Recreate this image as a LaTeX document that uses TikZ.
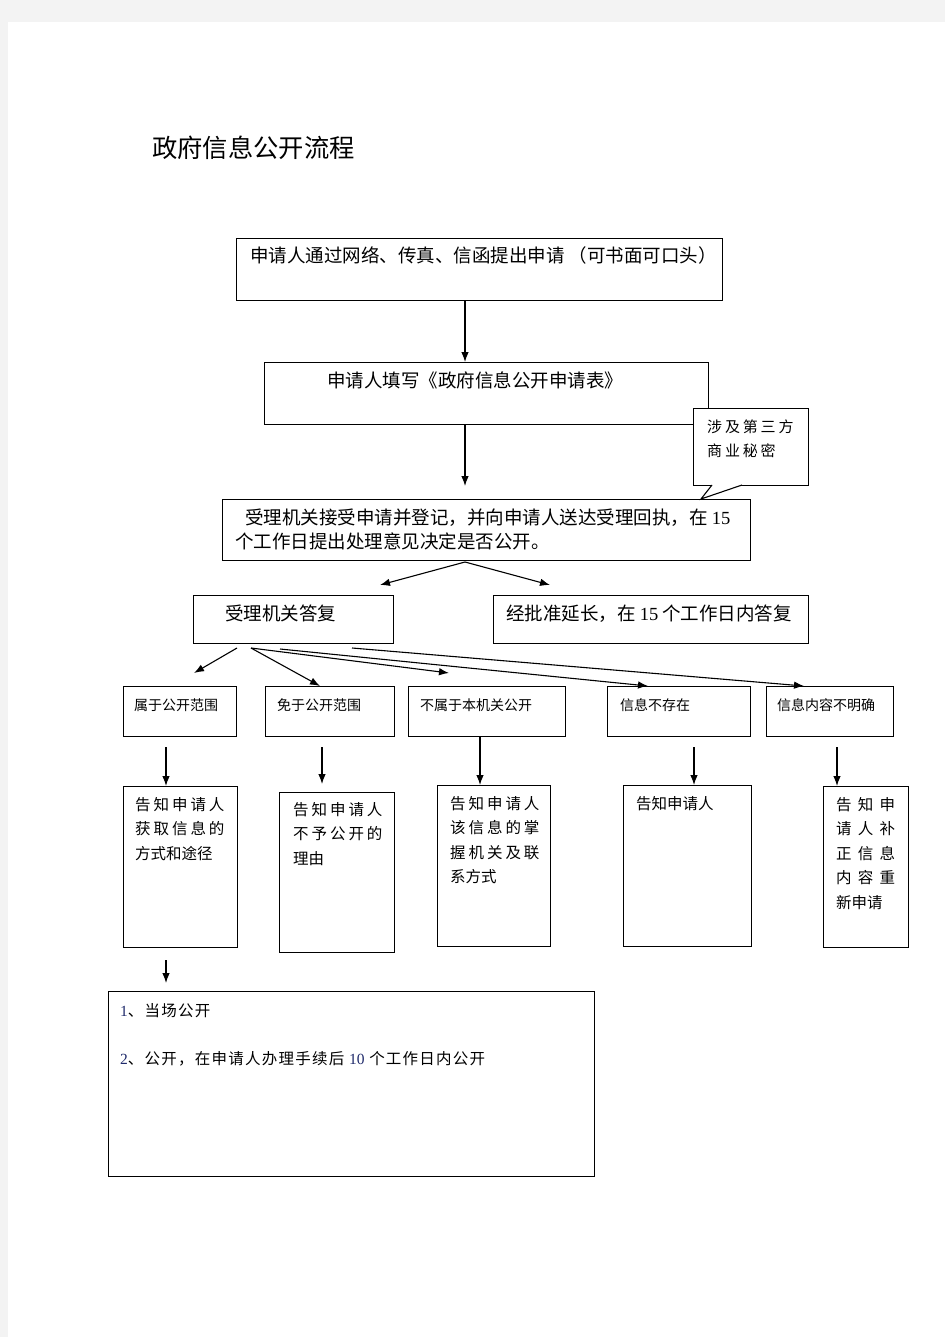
\documentclass[tikz,border=0pt]{standalone}
\usepackage{fontspec}
\setmainfont{Noto Sans CJK SC}
\newfontfamily\cjkwide[LetterSpace=19]{Noto Sans CJK SC}
\newfontfamily\cjkloose[LetterSpace=8]{Noto Sans CJK SC}
\newfontfamily\tnr{Liberation Serif}
\usetikzlibrary{
	arrows.meta,   %箭头
	positioning,   %定位
	calc           %计算
}
\definecolor{pagegray}{HTML}{F3F3F3}
\definecolor{numblue}{HTML}{1F2A6B}
\tikzset{
	every picture/.style={
		>={Latex[length=10pt,width=7.5pt]}
	},
	box/.style={draw,line width=1.1pt,rectangle,inner sep=0pt,anchor=north west},
	bigtxt/.style={inner sep=0pt,anchor=base west,align=left,font=\fontsize{18.5}{24}\selectfont},
	rowtxt/.style={inner sep=0pt,anchor=base west,font=\fontsize{14}{18}\selectfont},
	lowtxt/.style={inner sep=0pt,anchor=base west,align=left,font=\fontsize{15.5}{24.5}\selectfont},
	arr/.style={->,line width=1.1pt}
}

\begin{document}
\begin{tikzpicture}[x=1pt,y=-1pt]
	% 页面背景
	\fill[pagegray] (0,0) rectangle (945,1337);
	\fill[white] (8,22) rectangle (945,1337);
	\useasboundingbox (0,0) rectangle (945,1337);
	
	\node (title) at (152,158) [anchor=base west,inner sep=0pt,font=\fontsize{25.3}{30}\selectfont] {政府信息公开流程};
	
	% 上部流程
	\node (apply) at (236,238) [box,minimum width=486pt,minimum height=62pt] {};
	\node (applytxt) at (250,263) [bigtxt] {申请人通过网络、传真、信函提出申请 （可书面可口头）};
	\node (form) at (264,362) [box,minimum width=444pt,minimum height=62pt] {};
	\node (formtxt) at (327,387) [bigtxt] {申请人填写《政府信息公开申请表》};
	\node (recv) at (222,499) [box,minimum width=528pt,minimum height=61pt] {};
	% 多行文字以末行基线定位
	\node (recvtxt) at (235,548) [bigtxt] {\hspace{10pt}受理机关接受申请并登记，并向申请人送达受理回执，在 {\tnr 15}\\个工作日提出处理意见决定是否公开。};
	\node (reply) at (193,595) [box,minimum width=200pt,minimum height=48pt] {};
	\node (replytxt) at (225,620) [bigtxt] {受理机关答复};
	\node (extend) at (493,595) [box,minimum width=315pt,minimum height=48pt] {};
	\node (extendtxt) at (506,620) [bigtxt] {经批准延长，在 {\tnr 15} 个工作日内答复};
	
	% 商业秘密标注
	\node (secret) at (693,408) [box,fill=white,minimum width=115pt,minimum height=77pt] {};
	\fill[white] (712,485) -- (701,499) -- (742,485) -- cycle;
	\draw[line width=1.1pt] (712,485) -- (701,499) -- (742,485);
	\node (secrettxt) at (707,456) [lowtxt,font=\cjkwide\fontsize{15}{24}\selectfont] {涉及第三方\\商业秘密};
	
	\coordinate (spine) at (465,0);
	\draw[arr] (apply.south -| spine) -- (form.north -| spine);
	\coordinate (recvtop) at (465,486);
	\draw[arr] (form.south -| spine) -- (recvtop);
	\coordinate (recvout) at (465,562);
	\coordinate (toreply) at (380,585);
	\coordinate (toextend) at (550,585);
	\draw[arr] (recvout) -- (toreply);
	\draw[arr] (recvout) -- (toextend);
	
	% 答复分类
	\node (rowA) at (123,686) [box,minimum width=113pt,minimum height=50pt] {};
	\node (rowB) at (265,686) [box,minimum width=129pt,minimum height=50pt] {};
	\node (rowC) at (408,686) [box,minimum width=157pt,minimum height=50pt] {};
	\node (rowD) at (607,686) [box,minimum width=143pt,minimum height=50pt] {};
	\node (rowE) at (766,686) [box,minimum width=127pt,minimum height=50pt] {};
	\node (rowAtxt) at (134,710) [rowtxt] {属于公开范围};
	\node (rowBtxt) at (277,710) [rowtxt] {免于公开范围};
	\node (rowCtxt) at (420,710) [rowtxt] {不属于本机关公开};
	\node (rowDtxt) at (620,710) [rowtxt] {信息不存在};
	\node (rowEtxt) at (777,710) [rowtxt] {信息内容不明确};
	
	\coordinate (outA) at (237,648);
	\coordinate (outB) at (251,648);
	\coordinate (outD) at (280,649);
	\coordinate (outE) at (352,648);
	\coordinate (endA) at (194,673);
	\coordinate (endC) at (449,673);
	\draw[arr] (outA) -- (endA);
	\draw[arr] (outB) -- (rowB.north west -| 320,0);
	\draw[arr] (outB) -- (endC);
	\draw[arr] (outD) -- (rowD.north west -| 648,0);
	\draw[arr] (outE) -- (rowE.north west -| 804,0);
	
	% 处理结果
	\node (lowA) at (123,786) [box,minimum width=114pt,minimum height=161pt] {};
	\node (lowB) at (279,792) [box,minimum width=115pt,minimum height=160pt] {};
	\node (lowC) at (437,785) [box,minimum width=113pt,minimum height=161pt] {};
	\node (lowD) at (623,785) [box,minimum width=128pt,minimum height=161pt] {};
	\node (lowE) at (823,786) [box,minimum width=85pt,minimum height=161pt] {};
	\node (lowAtxt) at (135,859) [lowtxt] {{\cjkwide 告知申请人}\\{\cjkwide 获取信息的}\\方式和途径};
	\node (lowBtxt) at (293,864) [lowtxt] {{\cjkwide 告知申请人}\\{\cjkwide 不予公开的}\\理由};
	\node (lowCtxt) at (450,882.5) [lowtxt] {{\cjkwide 告知申请人}\\{\cjkwide 该信息的掌}\\{\cjkwide 握机关及联}\\系方式};
	\node (lowDtxt) at (636,809) [lowtxt] {告知申请人};
	\node (lowEtxt) at (836,908) [lowtxt] {\makebox[59pt][s]{告\hfil 知\hfil 申}\\\makebox[59pt][s]{请\hfil 人\hfil 补}\\\makebox[59pt][s]{正\hfil 信\hfil 息}\\\makebox[59pt][s]{内\hfil 容\hfil 重}\\新申请};
	
	\coordinate (downA) at (166,747);
	\coordinate (downB) at (322,747);
	\coordinate (downD) at (694,747);
	\coordinate (downE) at (837,747);
	\draw[arr] (downA) -- (downA |- lowA.north);
	\draw[arr] (downB) -- (322,784);
	\draw[arr] (rowC.south -| 480,0) -- (lowC.north -| 480,0);
	\draw[arr] (downD) -- (downD |- lowD.north);
	\draw[arr] (downE) -- (downE |- lowE.north);
	
	% 公开方式
	\node (final) at (108,991) [box,minimum width=486pt,minimum height=185pt] {};
	\node (finaltxt) at (120,1064) [lowtxt,font=\cjkloose\fontsize{15.5}{48}\selectfont] {{\color{numblue}\tnr 1}、当场公开\\{\color{numblue}\tnr 2}、公开，在申请人办理手续后 {\color{numblue}\tnr 10} 个工作日内公开};
	\coordinate (downF) at (166,960);
	\draw[arr] (downF) -- (166,983);
\end{tikzpicture}
\end{document}
